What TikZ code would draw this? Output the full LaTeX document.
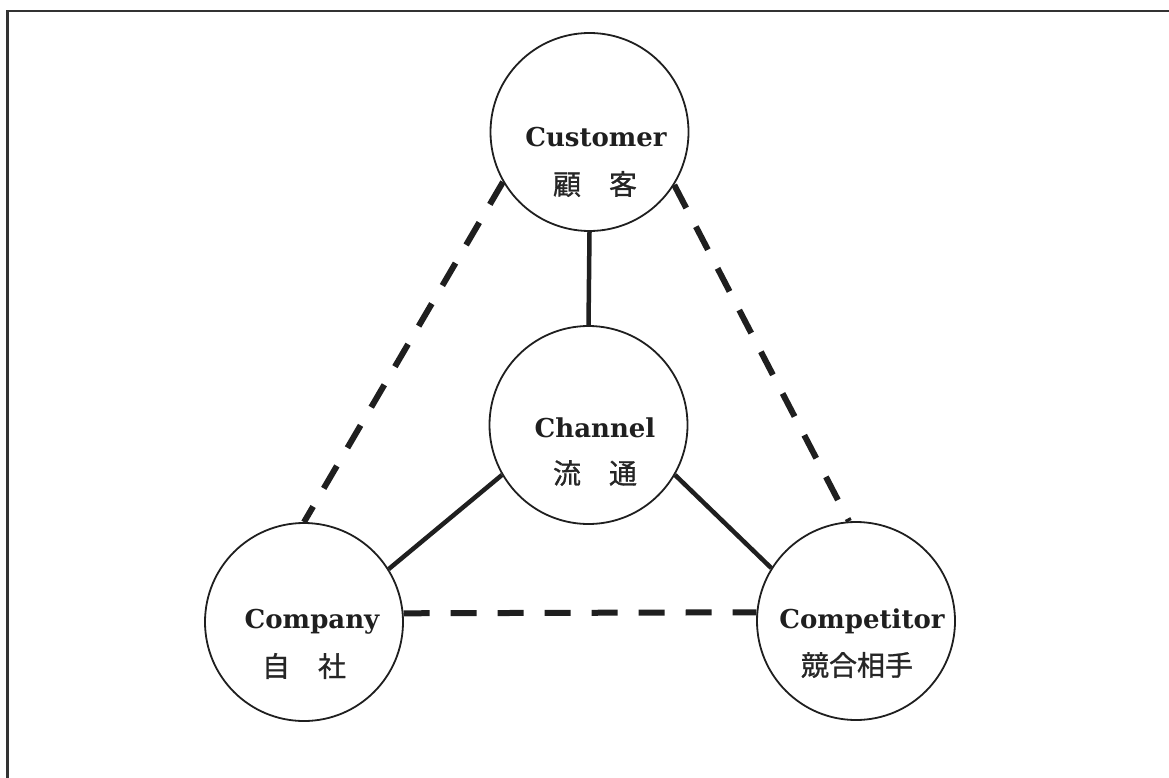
\documentclass[tikz,border=0pt]{standalone}
\usepackage{fontspec}
\newfontfamily\cjk[FakeBold=1]{Noto Sans CJK JP}
\newfontfamily\slab{DejaVu Serif}
\begin{document}
\begin{tikzpicture}[x=1pt,y=-1pt,
  ring/.style={circle,draw=black!88,line width=1.8pt,minimum size=198pt,inner sep=0pt},
  ename/.style={font=\fontsize{26}{28}\selectfont\slab\bfseries,anchor=base,inner sep=0pt,text=black!88},
  jname/.style={font=\fontsize{28}{30}\selectfont\cjk,inner sep=0pt,text=black!85},
  link/.style={line width=4.5pt,draw=black!88},
  rel/.style={line width=6pt,draw=black!88,dash pattern=on 26pt off 21pt}]
\useasboundingbox (0,0) rectangle (1169,778);
% frame
\draw[black!80,line width=2.2pt] (7.5,778) -- (7.5,11) -- (1169,11);

% the four parties
\node[ring] (cust)  at (589.5,132) {};
\node[ring] (chan)  at (588.5,425) {};
\node[ring] (comp)  at (304,622) {};
\node[ring] (rival) at (856,621) {};

% names
\node[ename] (custE)  at (596,147) {Customer};
\node[jname] (custJ)  at (595,184) {顧\hspace{1em}客};
\node[ename] (chanE)  at (595,437) {Channel};
\node[jname] (chanJ)  at (595,473) {流\hspace{1em}通};
\node[ename] (compE)  at (312,628) {Company};
\node[jname] (compJ)  at (304,666) {自\hspace{1em}社};
\node[ename] (rivalE) at (862,628) {Competitor};
\node[jname] (rivalJ) at (857,665) {競合相手};

% direct links through the channel
\draw[link] (cust.south) -- (chan.north);
\draw[link] (chan.210) -- (comp.32);
\draw[link] (chan.330) -- (rival.148);

% indirect relations
\draw[rel] (cust.210) -- (comp.90);
\draw[rel] (cust.328) -- (rival.94);
\draw[rel] (comp.5) -- (rival.175);
\end{tikzpicture}
\end{document}
